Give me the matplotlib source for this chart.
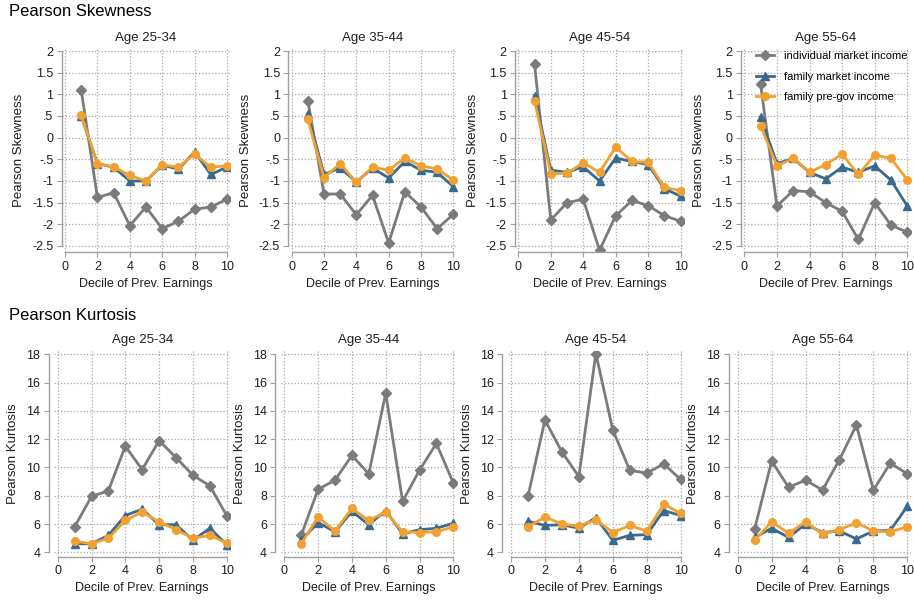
import matplotlib
matplotlib.use("Agg")
import matplotlib.pyplot as plt

plt.rcParams['font.family'] = ['Liberation Sans', 'DejaVu Sans']

deciles = [1, 2, 3, 4, 5, 6, 7, 8, 9, 10]
ages = ["Age 25-34", "Age 35-44", "Age 45-54", "Age 55-64"]
series_names = ["individual market income", "family market income", "family pre-gov income"]

# skewness, one list per age group
skew_indiv = [
    [1.1, -1.38, -1.27, -2.03, -1.6, -2.1, -1.93, -1.65, -1.6, -1.42],
    [0.85, -1.3, -1.3, -1.78, -1.33, -2.43, -1.25, -1.6, -2.1, -1.77],
    [1.7, -1.9, -1.5, -1.42, -2.6, -1.8, -1.45, -1.57, -1.8, -1.93],
    [1.23, -1.58, -1.22, -1.25, -1.5, -1.7, -2.35, -1.5, -2.02, -2.18],
]
skew_fam_mkt = [
    [0.5, -0.6, -0.68, -1.0, -1.0, -0.63, -0.73, -0.33, -0.85, -0.68],
    [0.55, -0.85, -0.7, -1.02, -0.7, -0.93, -0.55, -0.75, -0.8, -1.13],
    [0.97, -0.75, -0.8, -0.67, -1.0, -0.47, -0.55, -0.62, -1.18, -1.35],
    [0.48, -0.6, -0.48, -0.8, -0.95, -0.68, -0.8, -0.65, -0.98, -1.58],
]
skew_fam_pre = [
    [0.52, -0.6, -0.67, -0.87, -1.0, -0.63, -0.68, -0.38, -0.68, -0.65],
    [0.42, -0.92, -0.6, -1.03, -0.68, -0.75, -0.47, -0.65, -0.72, -0.98],
    [0.85, -0.83, -0.82, -0.58, -0.8, -0.22, -0.55, -0.57, -1.15, -1.22],
    [0.28, -0.65, -0.48, -0.8, -0.62, -0.38, -0.85, -0.4, -0.48, -0.97],
]

# kurtosis
kurt_indiv = [
    [5.8, 7.95, 8.35, 11.5, 9.85, 11.9, 10.7, 9.45, 8.7, 6.6],
    [5.2, 8.45, 9.1, 10.85, 9.55, 15.25, 7.6, 9.8, 11.7, 8.9],
    [7.95, 13.35, 11.1, 9.35, 18.05, 12.65, 9.8, 9.6, 10.25, 9.15],
    [5.65, 10.45, 8.6, 9.1, 8.4, 10.55, 13.0, 8.4, 10.3, 9.55],
]
kurt_fam_mkt = [
    [4.6, 4.6, 5.2, 6.6, 7.05, 5.95, 5.95, 4.85, 5.7, 4.55],
    [4.85, 6.1, 5.45, 6.9, 5.95, 6.95, 5.3, 5.6, 5.7, 6.05],
    [6.2, 5.9, 5.95, 5.7, 6.45, 4.85, 5.2, 5.25, 6.95, 6.6],
    [5.05, 5.7, 5.05, 6.0, 5.4, 5.5, 4.95, 5.5, 5.55, 7.25],
]
kurt_fam_pre = [
    [4.8, 4.6, 5.0, 6.25, 6.85, 6.15, 5.6, 5.0, 5.2, 4.65],
    [4.6, 6.5, 5.5, 7.1, 6.25, 6.85, 5.45, 5.4, 5.45, 5.8],
    [5.8, 6.5, 6.0, 5.85, 6.3, 5.4, 5.9, 5.5, 7.4, 6.75],
    [4.85, 6.15, 5.35, 6.15, 5.3, 5.6, 6.1, 5.5, 5.45, 5.8],
]

skew_ticks = [2, 1.5, 1, 0.5, 0, -0.5, -1, -1.5, -2, -2.5]
skew_labels = ["2", "1.5", "1", ".5", "0", "-.5", "-1", "-1.5", "-2", "-2.5"]
kurt_ticks = [4, 6, 8, 10, 12, 14, 16, 18]
x_ticks = [0, 2, 4, 6, 8, 10]

colors = ["#7b7b7b", "#3b6a8f", "#f0a132"]
markers = ["D", "^", "o"]
txt = "#1e1e1e"

W, H = 914, 601
fig = plt.figure(figsize=(W / 100, H / 100), dpi=100)

# pixel positions (x of decile 0 and 10) for each panel in a row
skew_x = [(65, 227), (291.7, 453.3), (518.3, 680.7), (744.3, 907.3)]
kurt_x = [(57.7, 226.7), (284.3, 453.3), (511, 680.7), (737.7, 907.3)]


def make_ax(x0, x10, ytop, ybot):
    # ytop/ybot are pixel positions of the axes limits
    sc = (x10 - x0) / 10.0
    left = x0 - 0.2 * sc
    right = x10 + 0.2 * sc
    return fig.add_axes([left / W, 1 - ybot / H, (right - left) / W, (ybot - ytop) / H])


def style(ax, yticks, ylabels, ylo, yhi, yoff):
    ax.set_xlim(-0.2, 10.2)
    ax.set_ylim(ylo, yhi)
    ax.set_xticks(x_ticks)
    ax.set_yticks(yticks)
    ax.set_yticklabels(ylabels)
    ax.grid(True, color="#a8a8a8", linestyle=(0, (1, 1.6)), linewidth=0.9)
    ax.set_axisbelow(True)
    for s in ["top", "right"]:
        ax.spines[s].set_visible(False)
    ax.spines["left"].set_bounds(min(yticks), max(yticks))
    ax.spines["bottom"].set_bounds(0, 10)
    ax.spines["left"].set_position(("outward", yoff))
    for s in ["left", "bottom"]:
        ax.spines[s].set_color("#a0a0a0")
        ax.spines[s].set_linewidth(1.0)
    ax.tick_params(length=3.5, color="#a0a0a0", labelsize=9, labelcolor=txt, pad=2.5)
    ax.set_xlabel("Decile of Prev. Earnings", fontsize=9, color=txt, labelpad=4)


def draw(ax, data_sets, i):
    for k, d in enumerate(data_sets):
        ax.plot(deciles, d[i], color=colors[k], marker=markers[k], markersize=5.5,
                linewidth=2, label=series_names[k])


# skewness row
sk_top = 51 - 0.05 * 43.3
sk_bot = 246 + 0.15 * 43.3
for i in range(4):
    ax = make_ax(skew_x[i][0], skew_x[i][1], sk_top, sk_bot)
    draw(ax, [skew_indiv, skew_fam_mkt, skew_fam_pre], i)
    style(ax, skew_ticks, skew_labels, -2.65, 2.05, 0)
    ax.set_ylabel("Pearson Skewness", fontsize=9.5, color=txt, labelpad=5)
    ax.set_title(ages[i], fontsize=9.5, color=txt, pad=6)
    if i == 3:
        ax.legend(loc="upper left", bbox_to_anchor=(754 / W, 1 - 49 / H),
                  bbox_transform=fig.transFigure, frameon=False, fontsize=8,
                  handlelength=1.6, handletextpad=0.9, labelspacing=0.95,
                  borderaxespad=0, borderpad=0.2)

# kurtosis row
k_sc = (552.3 - 354.3) / 14.0
ku_top = 354.3 - 0.2 * k_sc
ku_bot = 552.3 + 0.3 * k_sc
for i in range(4):
    ax = make_ax(kurt_x[i][0], kurt_x[i][1], ku_top, ku_bot)
    draw(ax, [kurt_indiv, kurt_fam_mkt, kurt_fam_pre], i)
    style(ax, kurt_ticks, [str(t) for t in kurt_ticks], 3.7, 18.2, 4)
    ax.set_ylabel("Pearson Kurtosis", fontsize=9.5, color=txt, labelpad=5)
    ax.set_title(ages[i], fontsize=9.5, color=txt, pad=6)

fig.text(9 / W, 1 - 12 / H, "Pearson Skewness", fontsize=12, va="center", ha="left")
fig.text(9 / W, 1 - 315 / H, "Pearson Kurtosis", fontsize=12, va="center", ha="left")

fig.savefig("out.png", dpi=100)
